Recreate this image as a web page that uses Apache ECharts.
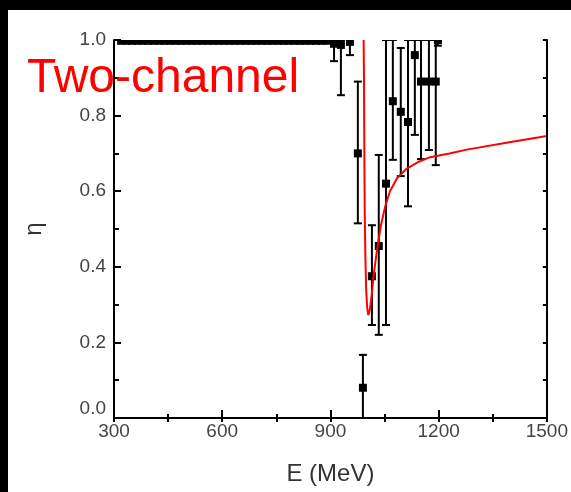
<!DOCTYPE html>
<html>
<head>
  <meta charset="utf-8">
  <title>ECharts</title>
  <script src="https://cdn.jsdelivr.net/npm/echarts@6/dist/echarts.min.js"></script>
  <style>
    html, body { margin: 0; padding: 0; background: #000; }
    #main { position: absolute; left: 8px; top: 10px; width: 563px; height: 482px; background: #fff; }
  </style>
</head>
<body>
<div id="main"></div>
<script type="text/javascript">
  // axis ticks
  var xTicks = [300, 600, 900, 1200, 1500];
  var yTicks = [0.0, 0.2, 0.4, 0.6, 0.8, 1.0];

  // data points sitting on eta = 1 (below threshold)
  var topE = [320, 335, 350, 365, 380, 395, 410, 425, 440, 455, 470, 485, 500, 515, 530, 545, 560, 575, 590, 605,
              620, 635, 650, 665, 680, 695, 710, 725, 740, 755, 770, 785, 800, 815, 830, 845, 860, 875, 890];

  // data points with visible error bars: energy, eta, lower end, upper end
  var ptE   = [910, 929, 954, 976, 990, 1015, 1034, 1054, 1073, 1095, 1115, 1134, 1151, 1173, 1192, 1198];
  var ptEta = [0.99, 0.987, 0.995, 0.70, 0.08, 0.375, 0.455, 0.62, 0.838, 0.81, 0.783, 0.96, 0.89, 0.89, 0.89, 1.0];
  var ptLo  = [0.944, 0.854, 0.96, 0.515, 0.0, 0.246, 0.22, 0.246, 0.683, 0.64, 0.56, 0.749, 0.685, 0.709, 0.669, 0.985];
  var ptHi  = [1.0, 1.0, 1.0, 0.89, 0.167, 0.51, 0.696, 1.0, 1.0, 0.979, 1.0, 1.0, 1.0, 1.0, 1.0, 1.0];

  // two-channel fit curve
  var fitE   = [992, 993, 994, 995, 997, 999, 1002, 1005, 1009, 1015, 1020, 1030, 1040, 1052, 1065, 1085, 1112, 1145, 1176, 1230, 1278, 1400, 1500];
  var fitEta = [1.0, 0.9, 0.7, 0.55, 0.42, 0.34, 0.29, 0.272, 0.285, 0.33, 0.38, 0.45, 0.51, 0.56, 0.60, 0.635, 0.66, 0.678, 0.69, 0.70, 0.71, 0.73, 0.746];

  var font = 'Liberation Sans, Arial, sans-serif';
  var points = topE.map(function (e) { return [e, 1.0, 0.99, 1.0]; })
    .concat(ptE.map(function (e, i) { return [e, ptEta[i], ptLo[i], ptHi[i]]; }));
  var fit = fitE.map(function (e, i) { return [e, fitEta[i]]; });

  var myChart = echarts.init(document.getElementById('main'));

  function renderErr(params, api) {
    var cs = params.coordSys;
    var x = api.value(0);
    var p = api.coord([x, api.value(1)]);
    var lo = api.coord([x, api.value(2)]);
    var hi = api.coord([x, api.value(3)]);
    var cw = 4, s = 4;
    var st = { stroke: '#000', lineWidth: 2 };
    var sq = echarts.graphic.clipRectByRect(
      { x: p[0] - s, y: p[1] - s, width: 2 * s, height: 2 * s },
      { x: cs.x, y: cs.y, width: cs.width, height: cs.height }
    );
    var kids = [
      { type: 'line', shape: { x1: p[0], y1: lo[1], x2: p[0], y2: hi[1] }, style: st },
      { type: 'line', shape: { x1: p[0] - cw, y1: lo[1], x2: p[0] + cw, y2: lo[1] }, style: st },
      { type: 'line', shape: { x1: p[0] - cw, y1: hi[1], x2: p[0] + cw, y2: hi[1] }, style: st }
    ];
    if (sq) kids.push({ type: 'rect', shape: sq, style: { fill: '#000' } });
    return { type: 'group', children: kids };
  }

  var axisLine = { show: true, lineStyle: { color: '#000', width: 2 } };

  var option = {
    animation: false,
    grid: { left: 106, top: 30, right: 24, bottom: 74 },
    xAxis: [
      {
        type: 'value', position: 'bottom', min: xTicks[0], max: xTicks[xTicks.length - 1], interval: 300, z: 10,
        name: 'E (MeV)', nameLocation: 'middle', nameGap: 44,
        nameTextStyle: { fontFamily: font, fontSize: 24, color: '#333' },
        axisLine: axisLine,
        axisTick: { inside: true, length: 8, lineStyle: { color: '#000', width: 2 } },
        minorTick: { show: true, splitNumber: 2, length: 4, lineStyle: { color: '#000', width: 2 } },
        axisLabel: { fontFamily: font, fontSize: 19, color: '#444', margin: 4, formatter: function (v) { return String(v); } },
        splitLine: { show: false }
      },
      {
        type: 'value', position: 'top', min: xTicks[0], max: xTicks[xTicks.length - 1], interval: 300, z: 10,
        axisLine: axisLine,
        axisTick: { inside: true, length: 4, lineStyle: { color: '#000', width: 2 } },
        minorTick: { show: true, splitNumber: 2, length: 4, lineStyle: { color: '#000', width: 2 } },
        axisLabel: { show: false },
        splitLine: { show: false }
      }
    ],
    yAxis: [
      {
        type: 'value', position: 'left', min: yTicks[0], max: yTicks[yTicks.length - 1], interval: 0.2, z: 10,
        name: 'η', nameLocation: 'middle', nameGap: 68, nameRotate: 90,
        nameTextStyle: { fontFamily: font, fontSize: 24, color: '#333' },
        axisLine: axisLine,
        axisTick: { inside: true, length: 7, lineStyle: { color: '#000', width: 2 } },
        minorTick: { show: true, splitNumber: 2, length: 5, lineStyle: { color: '#000', width: 2 } },
        axisLabel: {
          fontFamily: font, fontSize: 19, color: '#444', margin: 8,
          formatter: function (v) {
            return v === 0 ? '{z|0.0}' : v.toFixed(1);
          },
          rich: { z: { fontFamily: font, fontSize: 19, color: '#444', padding: [0, 0, 18, 0] } }
        },
        splitLine: { show: false }
      },
      {
        type: 'value', position: 'right', min: yTicks[0], max: yTicks[yTicks.length - 1], interval: 0.2, z: 10,
        axisLine: axisLine,
        axisTick: { inside: true, length: 4, lineStyle: { color: '#000', width: 2 } },
        minorTick: { show: true, splitNumber: 2, length: 4, lineStyle: { color: '#000', width: 2 } },
        axisLabel: { show: false },
        splitLine: { show: false }
      }
    ],
    series: [
      {
        type: 'custom',
        xAxisIndex: 0, yAxisIndex: 0,
        clip: true,
        renderItem: renderErr,
        encode: { x: 0, y: [1, 2, 3] },
        data: points,
        z: 3
      },
      {
        type: 'line',
        xAxisIndex: 0, yAxisIndex: 0,
        data: fit,
        showSymbol: false,
        smooth: false,
        clip: true,
        lineStyle: { color: '#ff0000', width: 2 },
        z: 4
      }
    ],
    graphic: [
      {
        type: 'text', left: 19, top: 45, z: 100,
        style: { text: 'Two-channel', fill: '#ff0000', font: '48px ' + font }
      }
    ]
  };
  myChart.setOption(option);
</script>
</body>
</html>
